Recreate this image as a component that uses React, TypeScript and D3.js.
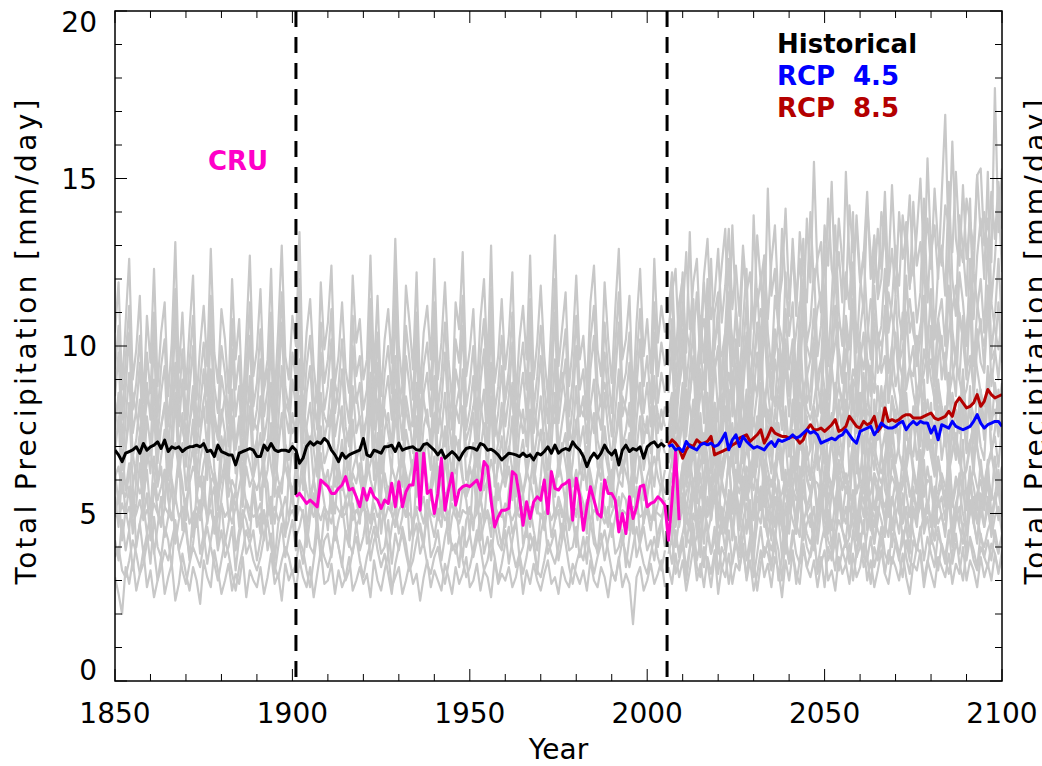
import React from 'react';
import * as d3 from 'd3';

// ---------- data ----------
const histStartYear = 1850;
const cruStartYear = 1901;
const futureStartYear = 2006;
const dashedYears = [1901, 2005.6];
const xTickValues = [1850, 1900, 1950, 2000, 2050, 2100];
const yTickValues = [0, 5, 10, 15, 20];

// ensemble mean, historical 1850-2005
const historicalMean = [
  6.89,6.75,6.55,6.8,6.85,6.9,6.99,6.8,7.09,6.89,
  6.99,7.04,7.14,6.94,7.19,6.85,6.99,6.94,6.99,6.85,
  6.94,6.99,7.0,7.04,6.99,7.09,6.85,6.89,6.7,7.04,
  6.85,6.8,6.75,6.75,6.45,6.8,6.85,6.89,6.94,6.89,
  6.7,6.7,7.04,6.89,7.09,6.9,6.85,6.89,6.89,6.85,
  7.0,6.89,6.5,6.65,7.0,7.14,7.04,7.14,7.09,7.24,
  7.14,6.89,6.75,6.55,6.8,6.65,6.75,6.8,6.85,6.89,
  7.24,6.75,6.7,6.89,6.85,6.8,6.99,7.0,7.04,6.85,
  7.1,6.89,6.94,6.97,6.99,6.9,6.89,7.06,7.09,6.99,
  6.89,6.75,6.89,6.65,6.75,6.85,6.75,6.6,6.8,6.94,
  6.97,6.95,6.89,7.09,7.04,6.89,6.92,6.85,6.75,6.6,
  6.7,6.8,6.78,6.75,6.7,6.8,6.7,6.75,6.6,6.8,
  6.75,6.85,6.99,6.8,7.04,6.8,6.89,6.94,6.89,7.14,
  6.99,6.89,6.7,6.4,6.65,6.8,6.65,6.8,7.04,6.85,
  6.75,6.89,6.45,6.89,7.04,6.85,6.94,6.89,6.99,6.65,
  6.99,7.09,7.14,6.99,7.09,6.99
];

// CRU observations 1901-2009
const cruObs = [
  5.5,5.6,5.45,5.3,5.4,5.3,5.2,6.0,5.9,5.8,
  5.6,5.6,5.75,5.85,6.1,5.7,5.75,5.5,5.2,5.75,
  5.4,5.75,5.5,5.4,5.15,5.4,5.3,5.9,5.2,5.95,
  5.2,5.65,5.85,5.85,6.8,5.1,6.8,5.6,5.7,5.0,
  5.6,6.65,5.1,5.7,6.2,5.25,5.7,5.8,5.85,5.8,
  5.9,6.0,5.7,6.55,6.4,5.4,4.6,4.9,5.1,5.1,
  5.15,6.25,6.15,5.5,4.65,5.35,4.85,5.35,5.5,5.4,
  6.0,5.0,6.25,5.75,5.7,5.85,5.9,6.0,4.8,6.05,
  5.5,4.5,5.2,5.8,5.4,5.0,4.9,6.0,5.6,5.6,
  5.4,4.45,5.0,4.4,5.5,4.85,5.2,5.8,5.85,5.2,
  5.3,5.35,5.5,5.4,5.25,4.2,5.4,6.85,4.8
];

// ensemble means 2006-2100
const rcp45Mean = [
  7.0,7.05,6.9,6.95,6.85,7.15,7.0,6.95,6.9,7.05,
  7.1,7.05,7.1,7.0,7.05,7.2,7.4,6.9,7.2,7.35,
  7.0,7.3,7.15,7.05,6.95,7.0,6.95,6.9,7.05,7.15,
  7.0,7.2,7.15,7.2,7.25,7.35,7.25,7.3,7.4,7.5,
  7.4,7.45,7.35,7.1,7.15,7.2,7.25,7.2,7.3,7.35,
  7.5,7.35,7.2,7.1,7.45,7.5,7.55,7.6,7.35,7.5,
  7.7,7.6,7.55,7.55,7.6,7.7,7.75,7.5,7.65,7.75,
  7.65,7.75,7.7,7.7,7.4,7.6,7.2,7.65,7.6,7.55,
  7.75,7.6,7.55,7.5,7.55,7.6,7.75,7.95,7.7,7.55,
  7.65,7.7,7.75,7.75,7.6
];
const rcp85Mean = [
  7.05,7.2,7.1,6.95,6.65,6.9,7.05,7.0,7.2,7.1,
  7.1,7.15,7.3,6.75,6.8,6.85,6.9,6.95,7.05,7.1,
  7.25,7.3,7.35,7.15,7.25,7.35,7.5,7.1,7.3,7.55,
  7.4,7.35,7.3,7.3,7.25,7.3,7.25,7.1,7.2,7.5,
  7.65,7.5,7.5,7.55,7.45,7.55,7.65,7.8,7.45,7.5,
  7.6,7.9,7.75,7.6,7.55,7.75,7.65,7.7,7.9,7.45,
  7.6,8.15,7.75,7.8,7.75,7.8,7.9,7.95,7.95,7.85,
  7.85,7.85,7.9,7.95,8.0,7.85,7.8,7.85,7.9,8.05,
  7.9,8.3,8.45,8.3,8.15,8.2,8.3,8.55,8.2,8.35,
  8.7,8.55,8.45,8.5,8.55
];

// individual model runs, historical 1850-2005
const grayHist01 = [3.1,2.6,2.0,3.4,2.9,3.6,2.7,3.2,3.9,2.8,3.3,2.5,3.0,3.7,2.6,3.1,3.5,2.4,2.9,3.8,3.2,2.7,3.4,3.0,2.3,3.6,3.1,2.8,3.9,3.3,2.6,3.0,3.5,2.7,3.2,2.9,3.7,2.5,3.3,3.0,2.8,3.4,2.6,3.1,3.8,2.9,3.2,2.4,3.5,3.0,3.3,2.7,3.6,3.1,2.8,3.4,2.5,3.2,3.9,2.9,3.0,3.5,2.6,3.3,2.8,3.1,3.7,2.7,3.0,3.4,2.9,3.2,2.5,3.6,3.0,2.7,3.3,3.8,2.8,3.1,3.4,2.6,3.0,3.5,2.9,3.2,2.4,3.1,3.6,2.8,3.3,3.0,2.7,3.5,3.1,2.6,3.4,2.9,3.2,3.7,2.8,3.0,3.5,2.7,3.3,3.1,2.5,3.6,2.9,3.2,3.0,3.4,2.8,3.1,3.7,2.6,3.3,2.9,3.5,3.0,2.7,3.2,3.6,2.9,3.1,2.6,3.4,3.0,2.8,3.5,3.2,2.9,3.3,2.7,3.6,3.0,2.8,3.4,3.1,2.5,3.3,3.0,3.7,2.8,3.2,2.9,1.7,3.1,3.4,2.7,3.0,3.5,2.9,3.2,3.6,2.8];
const grayHist02 = [4.2,3.6,4.8,3.9,4.5,3.3,4.1,4.7,3.8,4.4,3.5,4.9,4.0,3.7,4.6,4.2,3.4,4.8,3.9,4.3,4.7,3.6,4.1,5.0,3.8,4.4,3.5,4.2,4.9,3.9,4.5,3.7,4.0,4.6,3.3,4.3,4.8,3.8,4.1,4.5,3.6,4.2,5.1,3.9,4.4,3.2,4.0,4.7,3.7,4.3,4.8,3.9,4.1,3.5,4.6,4.0,3.8,4.9,3.6,4.2,4.4,3.7,4.6,4.0,3.4,4.5,4.1,3.8,4.7,3.9,4.3,5.0,3.6,4.2,4.5,3.8,4.0,4.8,3.5,4.4,3.9,4.6,4.1,3.3,4.3,4.7,3.8,4.2,4.9,3.7,4.0,4.5,3.6,4.3,4.8,3.9,4.1,3.4,4.6,4.0,4.4,3.7,4.2,5.0,3.8,4.3,3.6,4.7,4.1,3.9,4.5,3.5,4.2,4.8,3.7,4.0,4.6,3.9,4.3,3.2,4.4,4.9,3.8,4.1,4.5,3.6,4.2,4.7,3.9,4.0,4.6,3.7,4.3,3.5,4.8,4.1,3.9,4.4,3.6,4.2,4.7,3.8,4.0,4.5,3.4,4.3,4.9,3.7,4.1,4.6,3.9,4.2,3.6,4.4,4.8,4.0];
const grayHist03 = [4.9,5.6,4.2,5.1,4.5,5.8,4.0,4.7,5.3,4.4,5.0,3.8,4.6,5.5,4.3,4.9,5.9,4.1,4.8,5.2,4.5,3.7,5.0,4.6,5.4,4.2,4.8,6.0,4.4,4.9,5.3,4.1,4.7,5.6,3.9,4.5,5.1,4.8,4.3,5.7,4.6,5.0,4.2,4.9,5.5,3.6,4.7,5.2,4.4,4.8,5.8,4.3,4.6,5.1,4.0,4.9,5.4,4.5,3.9,5.0,4.7,5.6,4.2,4.8,5.2,4.4,4.0,5.3,4.6,4.9,5.7,4.1,4.5,5.0,4.3,5.5,4.8,3.8,4.6,5.2,4.4,4.9,6.2,4.2,4.7,5.1,4.5,4.0,5.4,4.8,4.3,5.0,4.6,5.6,4.1,4.9,5.3,4.4,3.7,4.8,5.1,4.5,5.8,4.2,4.7,5.0,4.3,5.5,4.6,4.0,4.9,5.3,4.4,4.8,5.9,4.1,4.6,5.2,4.5,3.9,5.0,4.7,5.4,4.3,4.8,5.1,4.2,5.6,4.5,4.9,4.0,5.3,4.6,4.8,5.7,4.4,3.8,5.0,4.7,5.2,4.3,4.9,5.5,4.1,4.6,5.0,4.4,5.8,4.2,4.8,5.1,4.5,5.3,4.0,4.7,5.4];
const grayHist04 = [5.5,4.6,6.2,5.0,5.8,4.4,5.3,6.5,4.9,5.6,4.2,5.9,5.1,4.7,6.3,5.4,4.8,5.7,6.8,4.5,5.2,5.9,4.3,5.6,5.0,6.1,4.7,5.4,5.8,4.1,5.5,6.4,4.9,5.2,5.7,4.6,6.0,5.3,4.8,5.9,5.1,4.4,6.6,5.0,5.5,4.7,5.8,5.2,4.3,6.2,5.4,4.9,5.7,6.9,4.6,5.1,5.6,4.8,6.0,5.3,4.5,5.8,5.0,6.3,4.9,5.4,4.2,5.9,5.5,4.7,6.1,5.2,4.8,5.6,6.5,4.4,5.3,5.8,5.0,4.6,6.0,5.4,4.9,5.7,4.3,6.2,5.1,5.5,4.7,5.9,6.7,4.8,5.3,5.6,4.5,6.0,5.2,4.9,5.8,5.4,4.4,6.3,5.0,5.5,4.7,6.1,5.3,4.8,5.9,5.1,4.6,5.7,6.4,4.9,5.2,5.6,4.3,6.0,5.4,5.0,5.8,4.5,5.3,6.2,4.8,5.5,5.1,4.7,6.6,5.2,4.9,5.7,5.3,4.4,6.0,5.5,4.8,5.9,5.0,4.6,6.3,5.2,4.9,5.6,5.4,4.5,6.1,5.0,5.7,4.7,5.5,6.2,4.8,5.3,5.9,5.1];
const grayHist05 = [6.2,5.3,6.9,5.7,6.5,4.9,6.0,7.3,5.5,6.3,5.0,6.7,5.8,6.4,5.2,7.1,6.0,5.4,6.6,5.9,4.8,6.3,7.0,5.6,6.1,5.3,6.8,5.9,6.2,5.1,6.6,7.4,5.5,6.0,5.7,6.9,5.2,6.4,5.8,6.1,7.2,5.4,6.3,5.9,4.7,6.7,6.0,5.6,7.0,6.2,5.3,6.5,5.8,6.1,7.5,5.5,6.0,5.2,6.8,5.9,6.3,5.0,6.6,6.0,5.7,7.1,5.4,6.2,5.9,6.5,5.1,6.8,6.0,5.6,6.3,7.3,5.8,5.3,6.4,6.0,5.7,6.9,5.2,6.1,6.6,5.5,6.2,7.0,5.9,5.4,6.5,6.0,4.9,6.7,5.8,6.3,5.6,7.2,6.1,5.5,6.4,5.9,6.8,5.3,6.0,6.6,5.7,5.1,6.9,6.2,5.8,6.4,5.4,7.1,6.0,5.6,6.3,5.9,6.7,5.2,6.1,7.4,5.7,6.2,5.5,6.6,6.0,5.3,6.9,5.8,6.3,5.6,6.5,7.0,5.9,5.4,6.2,6.8,5.7,6.1,5.2,6.6,6.0,5.8,7.2,5.5,6.3,5.9,6.7,5.4,6.1,6.5,5.8,7.0,6.0,5.6];
const grayHist06 = [6.8,7.9,5.6,6.9,8.3,5.8,6.5,7.4,5.2,7.0,6.2,8.1,5.9,6.7,7.5,5.5,6.4,8.6,6.1,7.1,5.7,6.8,7.8,5.4,6.6,7.2,6.0,8.4,6.3,5.6,7.3,6.5,5.9,7.9,6.2,7.0,5.3,6.8,8.2,6.1,6.6,7.4,5.8,6.3,7.7,5.5,6.9,8.0,6.4,5.9,7.1,6.2,8.5,5.7,6.7,7.3,6.0,5.4,7.6,6.5,6.9,8.1,5.8,6.4,7.2,6.1,5.6,7.8,6.6,7.0,5.9,6.3,8.3,6.0,7.4,5.5,6.8,7.1,6.2,8.7,6.5,5.8,7.5,6.9,6.1,7.9,5.6,6.7,7.2,6.3,8.0,5.9,6.6,7.6,6.2,5.4,7.3,6.8,8.2,6.0,6.5,7.1,5.7,6.9,7.7,6.1,8.4,5.8,6.4,7.3,6.0,6.8,7.9,5.5,6.6,7.2,6.2,8.1,5.9,6.7,7.5,6.3,5.6,7.0,8.6,6.1,6.9,7.4,5.8,6.5,7.8,6.2,6.8,5.7,7.3,8.0,6.4,6.0,7.6,6.6,5.9,7.1,8.3,6.2,6.7,7.4,5.5,6.9,7.9,6.3,7.0,6.1,8.2,6.6,7.2,6.8];
const grayHist07 = [7.5,8.6,6.3,7.8,9.2,6.7,7.2,8.4,6.0,7.9,7.0,9.0,6.5,7.6,8.3,6.2,7.4,9.5,6.8,8.0,6.4,7.7,8.8,6.1,7.3,8.2,6.9,9.3,7.1,6.6,8.1,7.4,6.3,8.7,7.0,7.9,6.0,7.5,9.1,6.8,7.2,8.5,6.5,7.0,8.9,6.2,7.7,9.4,7.1,6.6,8.0,7.3,9.6,6.4,7.6,8.3,6.9,6.1,8.6,7.2,7.8,9.0,6.5,7.1,8.2,6.8,6.3,8.8,7.4,7.9,6.6,7.0,9.2,6.7,8.4,6.2,7.5,8.0,6.9,9.7,7.3,6.4,8.5,7.8,6.8,8.9,6.3,7.6,8.1,7.0,9.1,6.6,7.4,8.6,7.0,6.1,8.2,7.7,9.3,6.7,7.2,8.0,6.4,7.9,8.7,6.9,9.5,6.5,7.1,8.3,6.8,7.6,8.9,6.2,7.5,8.1,7.0,9.2,6.6,7.4,8.5,7.1,6.3,7.8,9.6,6.9,7.7,8.4,6.5,7.3,8.8,7.0,7.6,6.4,8.2,9.0,7.2,6.7,8.6,7.5,6.6,8.0,9.3,7.0,7.5,8.3,6.2,7.8,8.9,7.1,7.9,6.8,9.1,7.4,8.1,7.6];
const grayHist08 = [8.5,9.8,7.0,8.7,10.4,7.4,8.1,9.5,6.7,8.9,7.8,10.2,7.2,8.6,9.4,6.9,8.3,10.8,7.6,9.0,7.1,8.7,10.0,6.8,8.2,9.3,7.7,10.6,8.0,7.3,9.1,8.4,7.0,9.9,7.9,8.8,6.6,8.5,10.3,7.5,8.1,9.6,7.2,7.9,10.1,6.9,8.7,10.7,8.0,7.4,9.0,8.2,11.0,7.1,8.6,9.4,7.7,6.8,9.8,8.1,8.8,10.2,7.3,8.0,9.3,7.6,7.0,10.0,8.3,8.9,7.4,7.9,10.5,7.5,9.5,6.9,8.4,9.1,7.8,11.2,8.2,7.2,9.7,8.8,7.6,10.1,7.0,8.6,9.2,7.9,10.4,7.4,8.3,9.8,7.9,6.8,9.3,8.7,10.6,7.5,8.1,9.1,7.1,8.9,9.9,7.7,10.8,7.3,8.0,9.4,7.6,8.5,10.1,6.9,8.4,9.2,7.9,10.5,7.4,8.3,9.7,8.0,7.0,8.8,11.0,7.7,8.7,9.6,7.2,8.2,10.0,7.9,8.5,7.1,9.3,10.3,8.1,7.5,9.8,8.4,7.3,9.1,10.7,7.9,8.4,9.5,6.9,8.8,10.2,8.0,8.9,7.6,10.4,8.3,9.2,8.6];
const grayHist09 = [9.3,10.6,7.8,9.6,11.2,8.1,8.9,10.3,7.4,9.8,8.6,11.0,7.9,9.4,10.2,7.6,9.1,11.7,8.3,9.9,7.8,9.5,10.9,7.5,9.0,10.1,8.5,11.5,8.8,8.0,10.0,9.2,7.7,10.8,8.7,9.7,7.3,9.3,11.3,8.2,8.9,10.5,7.9,8.7,11.0,7.6,9.5,11.6,8.8,8.1,9.8,9.0,12.0,7.8,9.4,10.3,8.5,7.5,10.7,8.9,9.6,11.1,8.0,8.8,10.2,8.4,7.7,10.9,9.1,9.7,8.1,8.7,11.4,8.3,10.4,7.6,9.2,10.0,8.6,12.1,9.0,7.9,10.6,9.6,8.4,11.0,7.7,9.4,10.1,8.7,11.3,8.1,9.1,10.7,8.7,7.5,10.2,9.5,11.5,8.2,8.9,10.0,7.8,9.7,10.8,8.5,11.7,8.0,8.8,10.3,8.4,9.3,11.0,7.6,9.2,10.1,8.7,11.4,8.1,9.1,10.6,8.8,7.7,9.6,12.0,8.5,9.5,10.5,7.9,9.0,10.9,8.7,9.3,7.8,10.2,11.2,8.9,8.2,10.7,9.2,8.0,10.0,11.6,8.7,9.2,10.4,7.6,9.6,11.1,8.8,9.7,8.3,11.3,9.1,10.1,9.4];
const grayHist10 = [10.4,11.9,8.7,10.7,12.6,9.0,9.9,11.5,8.3,10.9,9.5,12.3,8.8,10.4,11.3,8.5,10.1,13.1,9.2,11.0,8.7,10.5,12.1,8.4,10.0,11.2,9.4,12.9,9.8,8.9,11.1,10.2,8.6,12.0,9.6,10.8,8.1,10.3,12.7,9.1,9.9,11.7,8.8,9.6,12.3,8.4,10.5,13.0,9.7,9.0,10.9,10.0,13.4,8.7,10.4,11.4,9.4,8.3,11.9,9.9,10.7,12.4,8.9,9.7,11.3,9.3,8.6,12.1,10.1,10.8,9.0,9.6,12.7,9.2,11.5,8.5,10.2,11.1,9.5,13.2,10.0,8.8,11.8,10.7,9.3,12.2,8.6,10.4,11.2,9.6,12.6,9.0,10.1,11.9,9.6,8.3,11.3,10.5,12.8,9.1,9.9,11.1,8.7,10.8,12.0,9.4,13.0,8.9,9.7,11.4,9.3,10.3,12.2,8.4,10.2,11.2,9.6,12.7,9.0,10.1,11.8,9.7,8.5,10.7,13.3,9.4,10.5,11.6,8.8,10.0,12.1,9.6,10.3,8.7,11.3,12.4,9.9,9.1,11.9,10.2,8.9,11.1,12.9,9.6,10.2,11.5,8.4,10.7,12.3,9.7,10.8,9.2,12.6,10.1,11.2,10.4];
const grayHist11 = [5.1,4.8,5.3,4.9,5.2,4.7,5.0,5.4,4.8,5.1,4.9,5.3,5.0,4.6,5.2,5.0,4.8,5.5,4.9,5.1,5.3,4.7,5.0,5.2,4.8,5.4,4.9,5.1,4.6,5.0,5.3,4.9,5.1,4.7,5.2,5.0,4.8,5.4,5.1,4.9,5.0,5.3,4.7,5.1,4.9,5.2,4.8,5.0,5.5,4.9,5.1,4.8,5.2,5.0,4.6,5.3,4.9,5.1,4.8,5.2,5.0,4.7,5.3,5.1,4.9,5.0,5.4,4.8,5.1,4.9,5.2,5.0,4.7,5.3,4.9,5.1,4.8,5.2,5.0,4.6,5.1,5.3,4.9,5.0,4.8,5.2,5.1,4.7,5.4,5.0,4.9,5.1,5.2,4.8,5.0,5.3,4.9,4.7,5.1,5.0,5.2,4.8,5.0,5.4,4.9,5.1,4.7,5.2,5.0,4.9,5.3,5.0,4.8,5.1,4.9,5.2,5.0,4.6,5.3,5.1,4.9,5.0,5.2,4.8,5.1,5.3,4.9,5.0,4.7,5.2,5.1,4.9,5.0,5.4,4.8,5.1,5.0,4.9,5.2,4.7,5.0,5.3,4.9,5.1,5.0,4.8,5.2,5.1,4.9,5.0,5.3,4.8,5.1,5.0,4.9,5.2];
const grayHist12 = [6.1,6.4,5.7,5.5,6.2,6.8,6.0,5.6,5.9,6.5,6.9,6.2,5.4,5.8,6.3,6.0,6.6,7.1,6.3,5.7,5.3,5.9,6.4,6.1,5.8,6.5,7.0,6.4,5.9,5.5,6.0,6.6,6.2,5.6,5.2,5.8,6.3,6.9,6.5,6.0,5.7,6.1,6.7,7.2,6.4,5.8,5.5,6.0,6.4,6.1,5.6,5.9,6.6,6.3,5.7,5.3,6.0,6.8,6.5,6.1,5.8,6.2,6.9,6.4,5.9,5.4,5.7,6.3,6.7,6.0,5.5,6.1,6.5,7.0,6.3,5.8,6.2,5.6,5.1,5.9,6.4,6.8,6.2,5.7,6.0,6.6,7.1,6.5,5.9,5.6,6.1,6.4,5.8,5.3,5.9,6.5,6.2,6.7,6.0,5.5,5.8,6.3,6.9,6.4,5.7,6.0,6.6,6.1,5.4,5.9,6.5,7.0,6.3,5.8,6.2,5.6,6.1,6.8,6.4,5.7,5.5,6.0,6.6,6.2,5.9,6.4,7.1,6.5,5.8,5.3,5.9,6.3,6.0,6.7,6.2,5.6,6.1,6.5,6.9,6.3,5.7,5.4,6.0,6.6,6.2,5.8,6.4,7.0,6.4,5.9,5.6,6.2,6.7,6.1,5.7,6.3];
const grayHist13 = [7.9,8.4,7.3,7.0,7.8,8.6,8.0,7.4,7.7,8.3,8.8,8.1,7.2,7.6,8.2,7.8,8.5,9.1,8.2,7.5,7.0,7.7,8.3,8.0,7.6,8.4,9.0,8.3,7.7,7.2,7.8,8.5,8.1,7.4,6.9,7.6,8.2,8.9,8.4,7.8,7.5,8.0,8.7,9.3,8.3,7.6,7.2,7.8,8.3,8.0,7.4,7.7,8.5,8.2,7.5,7.0,7.8,8.8,8.4,7.9,7.6,8.1,8.9,8.3,7.7,7.1,7.5,8.2,8.6,7.8,7.2,7.9,8.4,9.0,8.2,7.6,8.1,7.4,6.8,7.7,8.3,8.8,8.1,7.5,7.8,8.5,9.2,8.4,7.7,7.4,7.9,8.3,7.6,7.0,7.7,8.4,8.1,8.7,7.8,7.2,7.6,8.2,8.9,8.3,7.5,7.8,8.5,8.0,7.1,7.7,8.4,9.1,8.2,7.6,8.1,7.4,7.9,8.8,8.3,7.5,7.2,7.8,8.5,8.1,7.7,8.3,9.2,8.4,7.6,7.0,7.7,8.2,7.9,8.7,8.1,7.4,7.9,8.4,8.9,8.2,7.5,7.1,7.8,8.5,8.1,7.6,8.3,9.1,8.3,7.7,7.4,8.1,8.6,8.0,7.5,8.2];
const grayHist14 = [3.7,4.0,3.3,3.1,3.6,4.2,3.8,3.2,3.5,4.1,4.5,3.9,3.0,3.4,3.9,3.6,4.2,4.7,3.9,3.3,2.9,3.5,4.0,3.7,3.4,4.1,4.6,4.0,3.5,3.0,3.6,4.2,3.8,3.2,2.7,3.4,3.9,4.5,4.1,3.6,3.3,3.7,4.3,4.8,4.0,3.4,3.1,3.6,4.0,3.7,3.2,3.5,4.2,3.9,3.3,2.8,3.6,4.4,4.1,3.7,3.4,3.8,4.5,4.0,3.5,3.0,3.3,3.9,4.3,3.6,3.1,3.7,4.1,4.6,3.9,3.4,3.8,3.2,2.6,3.5,4.0,4.4,3.8,3.3,3.6,4.2,4.7,4.1,3.5,3.2,3.7,4.0,3.4,2.9,3.5,4.1,3.8,4.3,3.6,3.1,3.4,3.9,4.5,4.0,3.3,3.6,4.2,3.7,3.0,3.5,4.1,4.6,3.9,3.4,3.8,3.2,3.7,4.4,4.0,3.3,3.1,3.6,4.2,3.8,3.5,4.0,4.7,4.1,3.4,2.9,3.5,3.9,3.6,4.3,3.8,3.2,3.7,4.1,4.5,3.9,3.3,3.0,3.6,4.2,3.8,3.4,4.0,4.6,4.0,3.5,3.2,3.8,4.3,3.7,3.3,3.9];

// individual model runs, scenarios 2006-2100
const grayFut01 = [3.4,2.9,3.8,3.1,3.6,2.7,3.3,4.0,3.0,3.5,2.8,3.7,3.2,3.9,2.6,3.4,3.1,3.8,2.9,3.5,3.3,4.1,3.0,3.6,2.7,3.2,3.9,3.1,3.5,2.8,3.7,3.3,2.5,3.6,3.0,3.8,3.2,2.9,4.0,3.4,3.1,3.6,2.8,3.5,3.9,3.0,3.3,2.7,3.7,3.2,3.5,2.9,3.8,3.1,3.4,4.1,3.0,3.6,2.8,3.3,3.9,3.2,2.9,3.7,3.4,3.0,3.8,3.1,2.6,3.5,3.3,3.9,3.0,3.6,3.2,2.8,3.7,3.4,3.1,3.8,2.9,3.5,3.2,4.0,3.0,3.6,3.3,2.8,3.7,3.1,3.5,3.0,3.8,3.3,3.6];
const grayFut02 = [4.1,3.5,4.5,3.7,4.3,3.3,4.0,4.7,3.6,4.2,3.4,4.4,3.8,4.6,3.2,4.0,3.7,4.5,3.5,4.1,3.9,4.8,3.6,4.3,3.1,3.8,4.6,3.7,4.2,3.4,4.4,3.9,3.0,4.3,3.6,4.5,3.8,3.5,4.7,4.0,3.7,4.2,3.4,4.1,4.6,3.6,3.9,3.3,4.4,3.8,4.2,3.5,4.5,3.7,4.0,4.8,3.6,4.3,3.4,3.9,4.6,3.8,3.5,4.4,4.1,3.6,4.5,3.7,3.2,4.2,3.9,4.6,3.6,4.3,3.8,3.4,4.4,4.0,3.7,4.5,3.5,4.1,3.8,4.7,3.6,4.3,3.9,3.4,4.4,3.7,4.2,3.6,4.5,3.9,4.3];
const grayFut03 = [4.5,4.9,4.2,3.9,4.4,5.0,4.6,4.0,4.3,4.8,5.2,4.6,3.8,4.2,4.7,4.4,4.9,5.4,4.7,4.1,3.7,4.3,4.8,4.5,4.2,4.9,5.3,4.8,4.3,3.9,4.4,5.0,4.6,4.0,3.6,4.2,4.7,5.3,4.9,4.4,4.1,4.5,5.1,5.5,4.8,4.2,3.9,4.4,4.8,4.5,4.0,4.3,5.0,4.7,4.1,3.7,4.4,5.2,4.9,4.5,4.2,4.6,5.3,4.8,4.3,3.8,4.1,4.7,5.1,4.4,3.9,4.5,4.9,5.4,4.7,4.2,4.6,4.0,3.5,4.3,4.8,5.2,4.6,4.1,4.4,5.0,5.5,4.9,4.3,4.0,4.5,4.8,4.2,3.8,4.4];
const grayFut04 = [5.1,4.3,5.7,4.6,5.3,4.0,4.9,5.9,4.4,5.2,4.1,5.5,4.8,5.8,3.8,5.0,4.5,5.6,4.2,5.3,4.9,6.1,4.4,5.4,3.9,4.7,5.8,4.6,5.1,4.2,5.5,4.9,3.7,5.3,4.4,5.7,4.7,4.3,6.0,5.0,4.6,5.2,4.1,5.1,5.8,4.4,4.8,4.0,5.5,4.7,5.2,4.3,5.7,4.6,5.0,6.2,4.5,5.3,4.1,4.8,5.8,4.7,4.3,5.5,5.0,4.4,5.6,4.6,3.9,5.2,4.8,5.8,4.5,5.4,4.7,4.2,5.5,4.9,4.5,5.7,4.3,5.1,4.7,6.0,4.4,5.3,4.8,4.1,5.5,4.6,5.2,4.4,5.6,4.8,5.4];
const grayFut05 = [5.6,6.2,4.9,5.5,6.5,4.7,5.3,6.0,4.5,5.8,5.1,6.4,4.8,5.7,6.1,4.6,5.4,6.7,5.0,5.9,4.7,5.5,6.3,4.5,5.2,6.0,5.1,6.6,5.4,4.8,5.9,5.3,4.6,6.2,5.2,5.7,4.4,5.5,6.5,5.0,5.3,6.1,4.8,5.2,6.4,4.6,5.6,6.8,5.3,4.9,5.8,5.4,6.9,4.7,5.6,6.0,5.1,4.5,6.2,5.4,5.7,6.5,4.9,5.3,6.0,5.0,4.7,6.3,5.5,5.8,4.9,5.2,6.6,5.0,6.1,4.6,5.5,5.9,5.2,6.9,5.4,4.8,6.2,5.7,5.1,6.4,4.7,5.6,6.0,5.3,6.6,4.9,5.5,6.3,5.2];
const grayFut06 = [6.0,5.3,6.7,5.6,6.3,5.0,5.9,7.0,5.4,6.2,5.1,6.5,5.8,6.9,4.9,6.0,5.5,6.6,5.2,6.3,5.9,7.2,5.4,6.4,4.8,5.7,6.8,5.6,6.1,5.2,6.5,5.9,4.7,6.3,5.4,6.7,5.7,5.3,7.1,6.0,5.6,6.2,5.1,6.1,6.9,5.4,5.8,5.0,6.5,5.7,6.2,5.3,6.8,5.6,6.0,7.3,5.5,6.3,5.1,5.8,6.9,5.7,5.3,6.6,6.0,5.4,6.7,5.6,4.9,6.2,5.8,6.9,5.5,6.4,5.7,5.2,6.6,5.9,5.5,6.8,5.3,6.1,5.7,7.2,5.4,6.3,5.8,5.1,6.6,5.6,6.2,5.4,6.7,5.8,6.4];
const grayFut07 = [6.5,7.0,6.2,5.8,6.4,7.1,6.6,5.9,6.3,6.9,7.4,6.7,5.7,6.2,6.8,6.4,7.0,7.6,6.8,6.0,5.6,6.3,6.9,6.5,6.1,7.0,7.5,6.9,6.3,5.8,6.4,7.1,6.6,5.9,5.4,6.2,6.8,7.5,7.0,6.4,6.0,6.5,7.2,7.7,6.9,6.2,5.8,6.4,6.9,6.5,5.9,6.3,7.1,6.8,6.1,5.6,6.4,7.4,7.0,6.5,6.2,6.7,7.5,6.9,6.3,5.7,6.0,6.8,7.3,6.4,5.8,6.5,7.0,7.6,6.8,6.2,6.7,6.0,5.4,6.3,6.9,7.4,6.7,6.1,6.4,7.1,7.7,7.0,6.3,5.9,6.5,6.9,6.2,5.7,6.4];
const grayFut08 = [7.0,8.1,6.1,7.2,8.5,6.0,6.8,7.8,5.8,7.4,6.5,8.3,6.2,7.5,8.0,5.9,7.1,8.7,6.4,7.6,6.0,7.3,8.4,5.8,6.9,7.9,6.6,8.6,7.0,6.2,7.7,7.1,6.0,8.2,6.8,7.4,5.7,7.2,8.8,6.6,6.9,8.1,6.3,6.8,8.5,6.0,7.4,8.9,7.0,6.4,7.8,7.1,9.0,6.2,7.5,8.2,6.8,6.0,8.4,7.2,7.6,8.8,6.5,7.1,8.1,6.8,6.3,8.6,7.3,7.8,6.6,7.2,9.0,6.9,8.3,6.3,7.5,8.0,7.0,9.2,7.4,6.6,8.5,7.9,6.9,8.8,6.5,7.7,8.3,7.2,9.1,6.8,7.5,8.7,7.3];
const grayFut09 = [7.3,6.6,8.1,7.0,7.8,6.4,7.4,8.4,6.8,7.7,6.5,8.0,7.2,8.3,6.3,7.5,7.0,8.2,6.7,7.8,7.4,8.6,6.9,7.9,6.3,7.2,8.4,7.1,7.6,6.7,8.1,7.5,6.3,8.0,7.0,8.4,7.3,6.9,8.8,7.6,7.2,7.9,6.8,7.8,8.7,7.1,7.5,6.8,8.3,7.4,8.0,7.0,8.6,7.4,7.8,9.2,7.2,8.1,6.9,7.6,8.8,7.5,7.1,8.5,7.9,7.2,8.7,7.5,6.8,8.2,7.8,8.9,7.4,8.4,7.7,7.1,8.6,7.9,7.5,8.9,7.3,8.1,7.7,9.3,7.4,8.4,7.9,7.1,8.7,7.6,8.3,7.5,8.9,8.0,8.5];
const grayFut10 = [8.0,8.6,7.7,7.3,7.9,8.7,8.2,7.4,7.8,8.5,9.0,8.3,7.2,7.7,8.3,8.0,8.6,9.2,8.4,7.6,7.1,7.8,8.5,8.1,7.7,8.6,9.2,8.5,7.9,7.3,8.0,8.8,8.3,7.6,7.0,7.8,8.5,9.3,8.8,8.1,7.8,8.3,9.1,9.6,8.7,8.0,7.6,8.2,8.8,8.4,7.8,8.2,9.0,8.7,8.0,7.5,8.3,9.4,9.0,8.5,8.2,8.7,9.6,9.0,8.4,7.8,8.1,8.9,9.4,8.6,8.0,8.7,9.2,9.9,9.0,8.4,8.9,8.2,7.6,8.5,9.1,9.7,9.0,8.4,8.7,9.4,10.1,9.3,8.6,8.2,8.8,9.3,8.6,8.1,8.9];
const grayFut11 = [8.6,10.0,7.4,8.8,10.5,7.3,8.5,9.7,7.0,9.2,8.0,10.3,7.6,9.3,9.9,7.2,8.8,10.8,7.9,9.4,7.4,9.0,10.4,7.1,8.6,9.8,8.2,10.7,8.7,7.7,9.6,8.9,7.5,10.2,8.5,9.3,7.2,9.0,11.0,8.3,8.7,10.1,7.9,8.6,10.7,7.6,9.3,11.2,8.9,8.1,9.9,9.0,11.4,7.9,9.5,10.4,8.7,7.7,10.7,9.2,9.6,11.2,8.3,9.1,10.4,8.7,8.1,11.0,9.4,10.0,8.5,9.2,11.5,8.9,10.6,8.1,9.7,10.3,9.0,11.8,9.5,8.5,11.0,10.2,9.0,11.4,8.4,10.0,10.8,9.3,11.8,8.8,9.8,11.3,9.5];
const grayFut12 = [9.4,10.8,8.1,9.6,11.3,8.0,9.2,10.5,7.7,10.0,8.7,11.1,8.3,10.1,10.7,7.9,9.6,11.6,8.6,10.2,8.1,9.8,11.3,7.8,9.4,10.7,9.0,11.6,9.5,8.4,10.5,9.7,8.2,11.1,9.3,10.2,7.9,9.9,12.0,9.1,9.6,11.1,8.7,9.5,11.7,8.4,10.2,12.3,9.8,8.9,10.9,9.9,12.5,8.7,10.4,11.4,9.6,8.5,11.8,10.1,10.6,12.3,9.2,10.0,11.5,9.6,9.0,12.1,10.4,11.0,9.4,10.2,12.7,9.9,11.7,9.0,10.8,11.4,10.0,13.1,10.5,9.5,12.2,11.3,10.0,12.6,9.4,11.1,12.0,10.4,13.2,9.8,10.9,12.6,10.6];
const grayFut13 = [10.2,11.7,8.8,10.4,12.2,8.8,10.0,11.4,8.5,10.9,9.5,12.0,9.1,11.0,11.6,8.7,10.5,12.6,9.4,11.1,8.9,10.7,12.3,8.6,10.3,11.7,9.9,12.7,10.4,9.3,11.5,10.7,9.1,12.2,10.3,11.3,8.8,11.0,13.2,10.1,10.7,12.3,9.7,10.6,13.0,9.4,11.4,13.6,11.0,10.0,12.2,11.1,14.0,9.8,11.7,12.8,10.8,9.6,13.2,11.4,12.0,13.9,10.4,11.3,13.0,10.9,10.2,13.7,11.8,12.5,10.7,11.6,14.4,11.3,13.3,10.3,12.3,13.0,11.5,14.9,12.0,10.9,13.9,12.9,11.5,14.4,10.8,12.7,13.8,12.0,15.2,11.3,12.6,14.5,12.2];
const grayFut14 = [11.0,12.2,9.6,11.3,12.0,9.8,13.4,10.2,11.6,9.5,11.9,10.4,12.6,9.9,11.2,12.4,13.5,10.3,13.6,11.1,10.0,12.7,11.4,9.8,13.9,11.2,12.0,10.6,14.7,11.5,12.3,10.4,13.5,11.8,10.9,13.2,11.4,12.6,10.8,13.8,11.9,15.5,12.2,11.0,13.6,12.4,14.9,11.7,12.8,11.3,15.2,12.5,11.6,13.9,12.1,11.0,14.2,12.7,11.9,13.5,12.3,14.6,11.8,12.9,11.5,14.0,12.6,13.3,11.7,14.3,12.4,13.1,11.9,15.6,12.8,13.6,12.0,14.5,16.9,12.9,16.1,13.2,12.4,14.8,12.6,13.7,12.2,15.1,15.3,13.0,13.8,12.5,17.7,13.4,15.3];
const grayFut15 = [10.4,11.6,12.3,9.9,11.0,12.8,10.5,11.9,12.6,10.2,12.1,13.2,10.8,11.5,12.9,10.7,11.8,13.5,11.1,12.4,10.9,13.0,11.6,12.2,10.5,13.3,11.9,12.7,10.8,12.5,13.6,11.2,12.0,14.1,11.4,12.8,10.9,13.4,12.1,11.3,14.0,11.8,12.6,13.1,11.0,14.4,12.3,11.7,13.8,12.5,11.4,14.2,12.8,13.5,11.9,12.7,14.6,12.0,13.3,11.6,14.0,13.1,12.2,14.8,12.5,11.8,13.9,12.9,14.5,12.1,13.4,15.0,12.6,13.8,12.3,14.7,13.0,12.4,14.2,13.6,12.8,15.2,13.1,12.5,14.4,13.7,12.9,15.1,13.3,14.0,12.7,14.6,13.2,14.9,13.5];
const grayFut16 = [4.5,5.2,4.0,4.8,5.6,4.3,4.1,5.0,4.6,3.7,5.3,4.4,4.9,5.8,4.2,4.7,3.9,5.1,4.5,5.5,4.0,4.8,5.3,4.4,3.6,5.0,4.7,5.7,4.3,4.9,4.1,5.4,4.6,3.8,5.2,4.8,4.4,5.9,4.2,4.7,5.0,3.9,4.6,5.5,4.3,5.1,4.0,4.8,5.6,4.5,4.2,5.3,4.7,3.7,5.0,4.4,5.8,4.6,4.1,5.2,4.8,4.3,5.5,4.0,4.9,5.4,4.2,4.7,3.8,5.1,4.6,5.7,4.4,4.9,4.1,5.3,4.7,5.0,4.3,5.6,4.0,4.8,5.2,4.5,3.9,5.4,4.7,4.2,5.1,4.6,5.5,4.3,4.9,5.2,4.4];
const grayFut17 = [5.0,5.8,4.6,5.4,6.1,4.8,4.5,5.6,5.1,4.2,5.9,4.9,5.4,6.3,4.7,5.2,4.4,5.7,5.0,6.0,4.5,5.3,5.9,4.9,4.1,5.5,5.2,6.2,4.8,5.4,4.6,6.0,5.1,4.3,5.7,5.3,4.9,6.4,4.7,5.2,5.5,4.4,5.1,6.0,4.8,5.6,4.5,5.3,6.1,5.0,4.7,5.8,5.2,4.2,5.5,4.9,6.3,5.1,4.6,5.7,5.3,4.8,6.0,4.5,5.4,5.9,4.7,5.2,4.3,5.6,5.1,6.2,4.9,5.4,4.6,5.8,5.2,5.5,4.8,6.1,4.5,5.3,5.7,5.0,4.4,5.9,5.2,4.7,5.6,5.1,6.0,4.8,5.4,5.7,4.9];
const grayFut18 = [6.0,6.6,5.7,5.3,5.9,6.7,6.2,5.4,5.8,6.5,7.0,6.3,5.2,5.7,6.3,6.0,6.6,7.2,6.4,5.6,5.1,5.8,6.4,6.1,5.7,6.6,7.1,6.5,5.9,5.3,6.0,6.8,6.3,5.6,5.0,5.8,6.4,7.2,6.7,6.1,5.7,6.2,6.9,7.4,6.6,5.9,5.5,6.1,6.6,6.2,5.6,6.0,6.8,6.5,5.8,5.3,6.1,7.1,6.7,6.2,5.9,6.4,7.3,6.7,6.1,5.5,5.8,6.6,7.1,6.2,5.6,6.3,6.8,7.5,6.7,6.1,6.6,5.9,5.3,6.2,6.8,7.3,6.6,6.0,6.3,7.0,7.7,6.9,6.2,5.8,6.4,6.8,6.1,5.6,6.3];
const grayFut19 = [6.6,7.6,5.9,7.0,8.0,5.8,6.4,7.4,6.1,7.2,5.7,7.8,6.3,7.5,6.0,7.1,8.2,6.2,6.9,5.6,7.4,6.5,7.9,6.0,7.0,6.4,8.1,5.9,7.3,6.7,6.1,7.7,6.6,7.2,5.8,7.5,6.3,8.3,6.5,7.0,6.0,7.4,6.8,5.9,7.9,6.4,7.2,6.1,7.6,6.7,8.4,6.2,7.1,6.6,7.8,5.9,7.3,6.9,6.3,8.0,6.8,7.4,6.0,7.7,6.5,7.1,8.5,6.3,7.0,6.7,7.9,6.1,7.5,6.9,7.2,6.4,8.2,6.6,7.4,6.0,7.8,7.1,6.5,8.3,6.8,7.2,6.2,7.9,7.0,6.6,8.6,6.9,7.3,6.4,7.7];
const grayFut20 = [7.5,8.4,6.9,7.8,8.9,6.7,7.3,8.2,7.0,8.0,6.6,8.6,7.2,8.3,6.9,7.9,9.0,7.1,7.7,6.5,8.2,7.4,8.7,6.9,7.8,7.3,8.9,6.8,8.1,7.6,7.0,8.5,7.5,8.0,6.7,8.3,7.2,9.1,7.4,7.9,6.9,8.2,7.7,6.8,8.7,7.3,8.0,7.0,8.4,7.6,9.2,7.1,7.9,7.5,8.6,6.8,8.1,7.8,7.2,8.8,7.7,8.2,6.9,8.5,7.4,7.9,9.3,7.2,7.8,7.6,8.7,7.0,8.3,7.8,8.0,7.3,9.0,7.5,8.2,6.9,8.6,7.9,7.4,9.1,7.7,8.0,7.1,8.7,7.8,7.5,9.4,7.8,8.1,7.3,8.5];
const grayFut21 = [8.7,9.7,7.8,9.0,10.1,7.9,8.5,9.5,8.1,9.3,7.7,9.9,8.4,9.6,8.0,9.2,10.3,8.2,8.9,7.6,9.5,8.6,10.1,8.0,9.1,8.5,10.3,7.9,9.4,8.8,8.2,9.9,8.7,9.3,7.9,9.7,8.4,10.6,8.6,9.2,8.1,9.6,9.0,8.0,10.2,8.6,9.4,8.3,9.9,9.0,10.8,8.4,9.3,8.9,10.1,8.1,9.6,9.2,8.6,10.4,9.2,9.7,8.3,10.0,8.8,9.4,11.0,8.7,9.3,9.1,10.3,8.5,9.9,9.3,9.6,8.8,10.7,9.0,9.8,8.4,10.3,9.5,9.0,10.9,9.3,9.7,8.7,10.5,9.5,9.2,11.3,9.6,9.9,9.0,10.4];
const grayFut22 = [9.6,10.3,9.2,8.8,9.5,10.5,9.9,9.0,9.4,10.2,10.8,10.0,8.8,9.3,10.0,9.7,10.4,11.1,10.2,9.2,8.7,9.5,10.3,9.9,9.4,10.4,11.1,10.4,9.7,9.0,9.8,10.7,10.2,9.4,8.7,9.6,10.4,11.3,10.7,10.0,9.6,10.2,11.1,11.6,10.7,9.9,9.4,10.1,10.7,10.3,9.6,10.1,11.0,10.6,9.9,9.3,10.2,11.4,10.9,10.3,10.0,10.6,11.6,10.9,10.2,9.5,9.9,10.8,11.4,10.4,9.8,10.6,11.2,12.0,10.9,10.2,10.8,10.0,9.3,10.4,11.1,11.8,10.9,10.2,10.6,11.4,12.2,11.3,10.5,10.0,10.8,11.3,10.5,9.9,10.8];
const grayFut23 = [5.4,5.7,5.9,5.5,5.2,5.6,6.0,5.8,5.3,5.5,5.9,6.2,5.7,5.3,5.6,5.8,5.4,5.1,5.5,5.9,6.1,5.7,5.4,5.8,6.2,5.9,5.5,5.2,5.6,6.0,5.8,5.4,5.6,6.1,6.3,5.8,5.4,5.7,5.5,5.2,5.6,6.0,5.9,5.5,5.8,6.2,5.7,5.3,5.6,5.9,6.1,5.6,5.3,5.7,6.0,5.8,5.4,5.6,6.2,5.9,5.5,5.2,5.7,6.1,5.8,5.4,5.9,6.3,5.7,5.5,5.8,5.3,5.6,6.0,5.9,5.4,5.7,6.2,5.8,5.5,5.2,5.8,6.1,5.7,5.6,5.9,6.3,5.8,5.4,5.7,6.0,5.6,5.3,5.8,6.1];
const grayFut24 = [3.8,4.3,3.2,3.6,4.1,3.0,3.9,4.4,3.4,3.1,4.0,3.5,2.8,3.7,4.2,3.3,3.8,2.9,3.6,4.3,3.4,3.9,3.1,4.1,3.6,2.7,3.5,4.0,3.8,3.3,4.2,3.0,3.7,4.4,3.5,3.9,2.9,3.6,4.1,3.4,3.8,4.5,3.2,3.7,2.8,4.0,3.6,4.2,3.3,3.9,3.5,4.1,3.0,3.8,4.4,3.4,3.7,2.9,4.0,3.6,4.3,3.2,3.9,3.5,4.1,3.7,3.1,4.2,3.6,3.4,4.0,3.8,2.8,3.5,4.3,3.9,3.3,4.1,3.7,3.2,3.8,4.4,3.5,3.0,3.9,4.2,3.6,3.3,4.0,3.7,3.4,4.1,3.8,3.2,3.9];

const grayHistorical = [grayHist01, grayHist02, grayHist03, grayHist04, grayHist05, grayHist06, grayHist07, grayHist08, grayHist09, grayHist10, grayHist11, grayHist12, grayHist13, grayHist14];
const grayFuture = [grayFut01, grayFut02, grayFut03, grayFut04, grayFut05, grayFut06, grayFut07, grayFut08, grayFut09, grayFut10, grayFut11, grayFut12, grayFut13, grayFut14, grayFut15, grayFut16, grayFut17, grayFut18, grayFut19, grayFut20, grayFut21, grayFut22, grayFut23, grayFut24];

// ---------- layout ----------
const W = 1042;
const H = 766;
const PL = 115, PR = 1002, PT = 11, PB = 681;
const FONT = '"DejaVu Sans", sans-serif';

export default function App() {
  const x = d3.scaleLinear().domain([1850, 2100]).range([PL, PR]);
  const y = d3.scaleLinear().domain([0, 20]).range([PB, PT]);
  const lineFrom = (start: number) =>
    d3.line<number>().x((_, i) => x(start + i)).y((d) => y(d));

  const minorX = d3.range(1850, 2101, 10);
  const minorY = d3.range(0, 21, 1);

  // y label baseline: end labels are nudged inside the frame
  const yLabelBaseline = (v: number) => (v === 20 ? y(v) + 21 : v === 0 ? y(v) - 1 : y(v) + 10);

  return (
    <svg width={W} height={H} style={{ position: 'absolute', left: 0, top: 0, display: 'block', background: '#fff' }}
      fontFamily={FONT}>
      <defs>
        <clipPath id="plotClip">
          <rect x={PL} y={PT} width={PR - PL} height={PB - PT} />
        </clipPath>
      </defs>
      <rect x={0} y={0} width={W} height={H} fill="#fff" />

      <g clipPath="url(#plotClip)" fill="none" stroke="#c8c8c8" strokeWidth={2.2} strokeLinejoin="round">
        {grayHistorical.map((s, i) => (
          <path key={'h' + i} d={lineFrom(histStartYear)(s) || ''} />
        ))}
        {grayFuture.map((s, i) => (
          <path key={'f' + i} d={lineFrom(futureStartYear)(s) || ''} />
        ))}
      </g>

      {dashedYears.map((yr) => (
        <line key={yr} x1={x(yr)} x2={x(yr)} y1={PT} y2={PB} stroke="#000" strokeWidth={3} strokeDasharray="16,10" />
      ))}

      <g fill="none" strokeWidth={3} strokeLinejoin="round" clipPath="url(#plotClip)">
        <path d={lineFrom(histStartYear)(historicalMean) || ''} stroke="#000" />
        <path d={lineFrom(cruStartYear)(cruObs) || ''} stroke="#ff00c8" />
        <path d={lineFrom(futureStartYear)(rcp85Mean) || ''} stroke="#b40000" />
        <path d={lineFrom(futureStartYear)(rcp45Mean) || ''} stroke="#0000ff" />
      </g>

      {/* frame */}
      <rect x={PL} y={PT} width={PR - PL} height={PB - PT} fill="none" stroke="#000" strokeWidth={1.5} />

      {/* ticks */}
      <g stroke="#000" strokeWidth={1}>
        {minorX.map((v) => {
          const len = v % 50 === 0 ? 12 : 7;
          return (
            <g key={'xt' + v}>
              <line x1={x(v)} x2={x(v)} y1={PB} y2={PB - len} />
              <line x1={x(v)} x2={x(v)} y1={PT} y2={PT + len} />
            </g>
          );
        })}
        {minorY.map((v) => {
          const len = v % 5 === 0 ? 12 : 7;
          return (
            <g key={'yt' + v}>
              <line x1={PL} x2={PL + len} y1={y(v)} y2={y(v)} />
              <line x1={PR} x2={PR - len} y1={y(v)} y2={y(v)} />
            </g>
          );
        })}
      </g>

      {/* tick labels */}
      <g fontSize={28} fill="#000">
        {xTickValues.map((v) => (
          <text key={'xl' + v} x={x(v)} y={PB + 42} textAnchor="middle">{v}</text>
        ))}
        {yTickValues.map((v) => (
          <text key={'yl' + v} x={PL - 18} y={yLabelBaseline(v)} textAnchor="end">{v}</text>
        ))}
      </g>

      {/* axis titles */}
      <text x={(PL + PR) / 2} y={759} textAnchor="middle" fontSize={28}>Year</text>
      <text transform={`translate(36, 342) rotate(-90)`} textAnchor="middle" fontSize={28}
        textLength={485} lengthAdjust="spacing">Total Precipitation [mm/day]</text>
      <text transform={`translate(1045, 342) rotate(-90)`} textAnchor="middle" fontSize={28}
        textLength={485} lengthAdjust="spacing">Total Precipitation [mm/day]</text>

      {/* legend */}
      <g fontSize={26} fontWeight="bold">
        <text x={777} y={53} fill="#000">Historical</text>
        <text x={777} y={85} fill="#0000ff">RCP</text>
        <text x={853} y={85} fill="#0000ff">4.5</text>
        <text x={777} y={117} fill="#b40000">RCP</text>
        <text x={853} y={117} fill="#b40000">8.5</text>
      </g>
      <text x={208} y={170} fontSize={26} fontWeight="bold" fill="#ff00c8">CRU</text>
    </svg>
  );
}
